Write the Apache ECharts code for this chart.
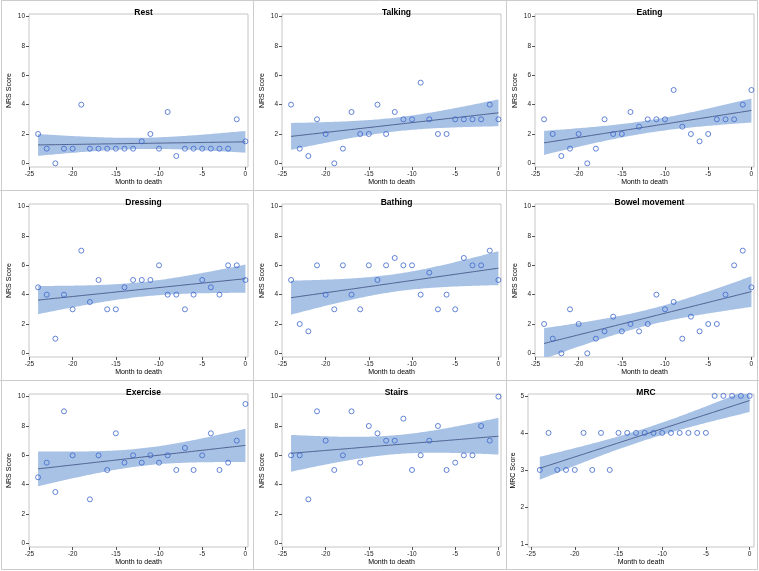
<!DOCTYPE html>
<html>
<head>
<meta charset="utf-8">
<script src="https://cdn.jsdelivr.net/npm/echarts@6/dist/echarts.min.js"></script>
<style>
html,body{margin:0;padding:0;background:#fff;}
#chart{width:759px;height:571px;}
</style>
</head>
<body>
<div id="chart"></div>
<script>
// ---- Data ----
const months = [-24,-23,-22,-21,-20,-19,-18,-17,-16,-15,-14,-13,-12,-11,-10,-9,-8,-7,-6,-5,-4,-3,-2,-1,0];
const panelTitles = ['Rest','Talking','Eating','Dressing','Bathing','Bowel movement','Exercise','Stairs','MRC'];
const yAxisNames = ['NRS Score','NRS Score','NRS Score','NRS Score','NRS Score','NRS Score','NRS Score','NRS Score','MRC Score'];
const xAxisName = 'Month to death';
const xTicks = [-25,-20,-15,-10,-5,0];
const nrsTicks = [0,2,4,6,8,10];
const mrcTicks = [1,2,3,4,5];

const rest     = [2,1,0,1,1,4,1,1,1,1,1,1,1.5,2,1,3.5,0.5,1,1,1,1,1,1,3,1.5];
const talking  = [4,1,0.5,3,2,0,1,3.5,2,2,4,2,3.5,3,3,5.5,3,2,2,3,3,3,3,4,3];
const eating   = [3,2,0.5,1,2,0,1,3,2,2,3.5,2.5,3,3,3,5,2.5,2,1.5,2,3,3,3,4,5];
const dressing = [4.5,4,1,4,3,7,3.5,5,3,3,4.5,5,5,5,6,4,4,3,4,5,4.5,4,6,6,5];
const bathing  = [5,2,1.5,6,4,3,6,4,3,6,5,6,6.5,6,6,4,5.5,3,4,3,6.5,6,6,7,5];
const bowel    = [2,1,0,3,2,0,1,1.5,2.5,1.5,2,1.5,2,4,3,3.5,1,2.5,1.5,2,2,4,6,7,4.5];
const exercise = [4.5,5.5,3.5,9,6,null,3,6,5,7.5,5.5,6,5.5,6,5.5,6,5,6.5,5,6,7.5,5,5.5,7,9.5];
const stairs   = [6,6,3,9,7,5,6,9,5.5,8,7.5,7,7,8.5,5,6,7,8,5,5.5,6,6,8,7,10];
const mrc      = [3,4,3,3,3,4,3,4,3,4,4,4,4,4,4,4,4,4,4,4,5,5,5,5,5];

const panelData = [rest,talking,eating,dressing,bathing,bowel,exercise,stairs,mrc];

// two-sided 95% t critical values by degrees of freedom
const tCrit = {21:2.0796, 22:2.0739, 23:2.0687};

function fitLine(xs, ys){
  const px=[], py=[];
  xs.forEach((x,i)=>{ if(ys[i]!==null && ys[i]!==undefined){px.push(x);py.push(ys[i]);} });
  const n=px.length;
  const mx=px.reduce((a,b)=>a+b,0)/n, my=py.reduce((a,b)=>a+b,0)/n;
  let sxx=0,sxy=0;
  for(let i=0;i<n;i++){sxx+=(px[i]-mx)**2; sxy+=(px[i]-mx)*(py[i]-my);}
  const b=sxy/sxx, a=my-b*mx;
  let sse=0; for(let i=0;i<n;i++){sse+=(py[i]-a-b*px[i])**2;}
  const s=Math.sqrt(sse/(n-2)); const t=tCrit[n-2];
  const xmin=Math.min(...px), xmax=Math.max(...px);
  const fit=[], lo=[], hi=[];
  for(let k=0;k<=96;k++){
    const x=xmin+(xmax-xmin)*k/96;
    const yh=a+b*x;
    const hw=t*s*Math.sqrt(1/n+(x-mx)**2/sxx);
    fit.push([x,yh]); lo.push([x,yh-hw]); hi.push([x,yh+hw]);
  }
  return {fit,lo,hi};
}

const chart = echarts.init(document.getElementById('chart'), null, {renderer:'canvas'});
const FONT = 'Liberation Sans, Arial, sans-serif';
const bandColor = '#a8c2e6';
const lineColor = '#4f6290';
const markerColor = '#3d66cc';

const grids=[], xAxes=[], yAxes=[], series=[], titles=[];
panelData.forEach((ys,i)=>{
  const c=i%3, r=Math.floor(i/3);
  const x0=c*253, y0=r*190;
  const isMrc = (i===8);
  const left = x0 + (isMrc?22:29);
  const right = x0 + 248;
  grids.push({left:left, top:y0+14, width:right-left, height:153, show:true, borderColor:'#c6c6c6', borderWidth:1, backgroundColor:'transparent'});
  titles.push({text:panelTitles[i], left:(left+right)/2, top:y0+3, textAlign:'center',
    textStyle:{fontSize:8.5, fontWeight:'bold', fontFamily:FONT, color:'#000'}});
  xAxes.push({type:'value', gridIndex:i, min:isMrc?-25.35:-25.05, max:isMrc?0.5:0.3,
    name:xAxisName, nameLocation:'middle', nameGap:12,
    nameTextStyle:{fontSize:7, fontFamily:FONT, color:'#000'},
    axisLine:{show:false, onZero:false}, splitLine:{show:false},
    axisTick:{show:true, inside:false, length:3, customValues:xTicks, lineStyle:{color:'#555', width:1}},
    axisLabel:{customValues:xTicks, fontSize:6.5, fontFamily:FONT, color:'#222', margin:4}});
  yAxes.push({type:'value', gridIndex:i, min:isMrc?0.92:-0.25, max:isMrc?5.05:10.18,
    name:yAxisNames[i], nameLocation:'middle', nameGap:isMrc?10.5:16.5, nameRotate:90,
    nameTextStyle:{fontSize:7, fontFamily:FONT, color:'#000'},
    axisLine:{show:false, onZero:false}, splitLine:{show:false},
    axisTick:{show:true, inside:false, length:3, customValues:isMrc?mrcTicks:nrsTicks, lineStyle:{color:'#555', width:1}},
    axisLabel:{customValues:isMrc?mrcTicks:nrsTicks, fontSize:6.5, fontFamily:FONT, color:'#222', margin:4}});
  const f = fitLine(months, ys);
  const bandData = f.lo.map((p,k)=>[p[0], p[1], f.hi[k][1]]);
  series.push({type:'custom', xAxisIndex:i, yAxisIndex:i, clip:true, silent:true, animation:false, z:1,
    data:bandData, encode:{x:0, y:[1,2]},
    renderItem:function(params, api){
      if(params.dataIndex!==0) return null;
      const lower = bandData.map(d=>api.coord([d[0], d[1]]));
      const upper = bandData.map(d=>api.coord([d[0], d[2]])).reverse();
      return {type:'polygon', shape:{points:lower.concat(upper)}, style:{fill:bandColor, stroke:null}};
    }});
  series.push({type:'line', xAxisIndex:i, yAxisIndex:i, data:f.fit, symbol:'none',
    lineStyle:{color:lineColor, width:1}, silent:true, animation:false, z:2});
  series.push({type:'scatter', xAxisIndex:i, yAxisIndex:i,
    data:months.map((m,k)=>[m, ys[k]]).filter(p=>p[1]!==null),
    symbol:'circle', symbolSize:5,
    itemStyle:{color:'rgba(0,0,0,0)', borderColor:markerColor, borderWidth:1}, animation:false, z:3});
});

const frameStyle = {stroke:'#cccccc', lineWidth:1, fill:null};
const graphics = [
  {type:'rect', shape:{x:1.5, y:0.5, width:756, height:569}, style:frameStyle, silent:true},
  {type:'line', shape:{x1:253.5, y1:0, x2:253.5, y2:570}, style:frameStyle, silent:true},
  {type:'line', shape:{x1:506.5, y1:0, x2:506.5, y2:570}, style:frameStyle, silent:true},
  {type:'line', shape:{x1:0, y1:190.5, x2:759, y2:190.5}, style:frameStyle, silent:true},
  {type:'line', shape:{x1:0, y1:380.5, x2:759, y2:380.5}, style:frameStyle, silent:true}
];

chart.setOption({
  animation:false,
  backgroundColor:'#fff',
  title:titles,
  grid:grids, xAxis:xAxes, yAxis:yAxes, series:series,
  graphic:graphics
});
</script>
</body>
</html>
